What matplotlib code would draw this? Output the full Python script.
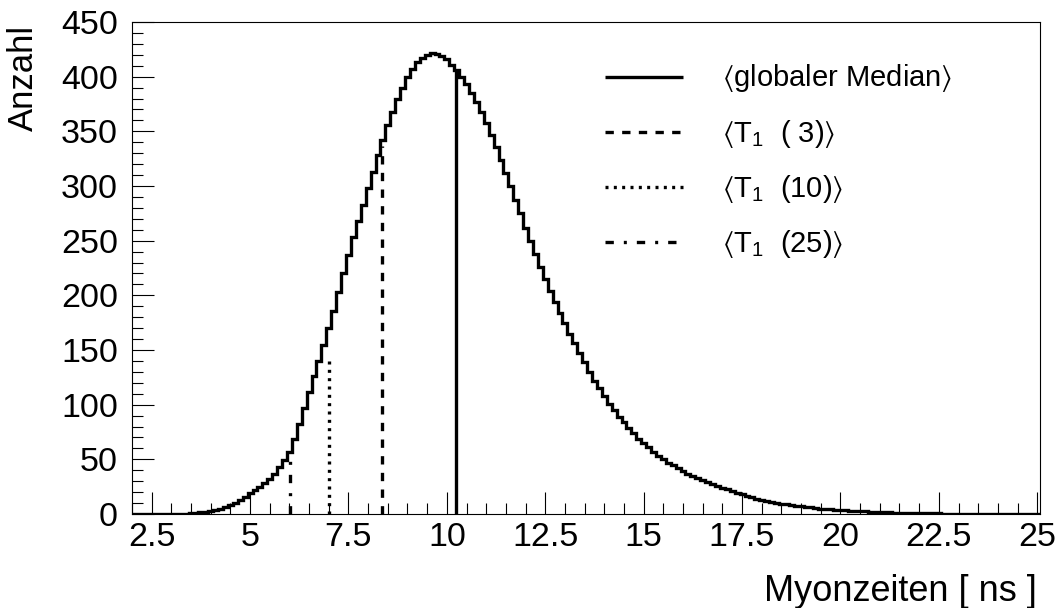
import numpy as np
import matplotlib
matplotlib.use('Agg')
import matplotlib.pyplot as plt
from matplotlib.ticker import MultipleLocator, FuncFormatter

plt.rcParams['font.family'] = ['Liberation Sans', 'DejaVu Sans']
plt.rcParams['mathtext.fontset'] = 'custom'
plt.rcParams['mathtext.rm'] = 'Liberation Sans'
plt.rcParams['mathtext.it'] = 'Liberation Sans:italic'
plt.rcParams['mathtext.fallback'] = 'stixsans'

# muon time histogram, bin centres 2.0 ... 25.0 ns in steps of 0.125 ns
bin_width = 0.125
first_centre = 2.0
counts = [
    0, 0, 0, 0, 0, 0, 0, 0,
    0, 0.1, 0.2, 0.4, 0.6, 1.0, 1.5, 2.2,
    3.0, 3.8, 4.8, 6.3, 8.0, 10.2, 12.5, 15.5,
    19, 22, 25, 28.5, 32, 37, 43, 49.5,
    57, 69, 82, 97, 112, 126, 140, 155,
    170, 186, 203, 220, 237, 253, 268, 283,
    298, 313, 328, 342, 356, 368, 380, 390,
    400, 407, 413, 417, 420, 422, 421, 419,
    416, 411, 406, 400, 393, 385, 377, 368,
    358, 347, 336, 324, 312, 300, 287, 275,
    262, 250, 238, 226, 215, 204, 194, 184,
    175, 165, 156, 147, 139, 130, 122, 115,
    108, 101, 95, 89, 84, 79, 74, 69,
    65, 61, 57, 53, 50, 47, 44.5, 42,
    39.5, 37, 35, 33, 31, 29, 27.5, 25.5,
    24, 22.5, 21, 19.5, 18, 16.5, 15.3, 14,
    13, 12, 11, 10.2, 9.5, 8.7, 8, 7.5,
    7, 6.5, 6, 5.5, 5, 4.6, 4.2, 3.9,
    3.6, 3.3, 3.1, 2.8, 2.6, 2.4, 2.2, 2.0,
    1.8, 1.6, 1.5, 1.3, 1.2, 1.1, 1.0, 0.9,
    0.8, 0.7, 0.6, 0.55, 0.5, 0.45, 0.4, 0.35,
    0.3, 0.27, 0.25, 0.22, 0.2, 0.17, 0.15, 0.12,
    0.1, 0.1, 0.08, 0.07, 0.05, 0.04, 0.03, 0.02,
    0.01,
]

# markers: global median and the T1 means
marker_labels = [r'$\langle$globaler Median$\rangle$',
                 r'$\langle\mathrm{T}_1$  ( 3)$\rangle$',
                 r'$\langle\mathrm{T}_1$  (10)$\rangle$',
                 r'$\langle\mathrm{T}_1$  (25)$\rangle$']
marker_x = [10.22, 8.35, 7.0, 6.01]
marker_h = [407, 337, 142, 55]
marker_ls = ['-', (0, (2.5, 2.5)), (0, (0.9, 1.6)), (0, (2.5, 3.0, 0.9, 3.0))]

counts = np.array(counts)
edges = first_centre - bin_width / 2 + bin_width * np.arange(len(counts) + 1)

fig = plt.figure(figsize=(10.61, 6.08), dpi=100)
ax = fig.add_axes([0.1244, 0.1546, 0.8558, 0.8092])

lw = 2.4
ax.stairs(counts, edges, color='black', linewidth=lw, baseline=None)

for x, h, ls in zip(marker_x, marker_h, marker_ls):
    ax.vlines(x, 0, h, colors='black', linewidth=lw, linestyles=[ls])

ax.set_xlim(2.0, 25.07)
ax.set_ylim(0, 450)

ax.xaxis.set_major_locator(MultipleLocator(2.5))
ax.xaxis.set_minor_locator(MultipleLocator(0.5))
ax.yaxis.set_major_locator(MultipleLocator(50))
ax.yaxis.set_minor_locator(MultipleLocator(10))
ax.xaxis.set_major_formatter(FuncFormatter(lambda v, p: f'{v:g}'))

ax.tick_params(which='both', direction='in', top=False, right=False,
               width=0.8, labelsize=24.5)
ax.tick_params(which='major', length=15.8)
ax.tick_params(which='minor', length=7.9)
ax.tick_params(axis='y', pad=10)
ax.tick_params(axis='x', pad=5.5)
for sp in ax.spines.values():
    sp.set_linewidth(0.8)

ax.text(0.9967, -0.177, 'Myonzeiten [ ns ]', transform=ax.transAxes,
        ha='right', va='baseline', fontsize=26)
ax.text(-0.12, 0.994, 'Anzahl', transform=ax.transAxes, rotation=90,
        ha='center', va='top', fontsize=25)

# legend drawn by hand
rows_y = [0.889, 0.777, 0.665, 0.553]
for lbl, ls, y in zip(marker_labels, marker_ls, rows_y):
    ax.plot([0.521, 0.607], [y, y], transform=ax.transAxes, color='black',
            linewidth=lw, linestyle=ls, solid_capstyle='butt',
            dash_capstyle='butt')
    ax.text(0.650, y - 0.02, lbl, transform=ax.transAxes, ha='left',
            va='baseline', fontsize=21)

fig.savefig('out.png', dpi=100)
